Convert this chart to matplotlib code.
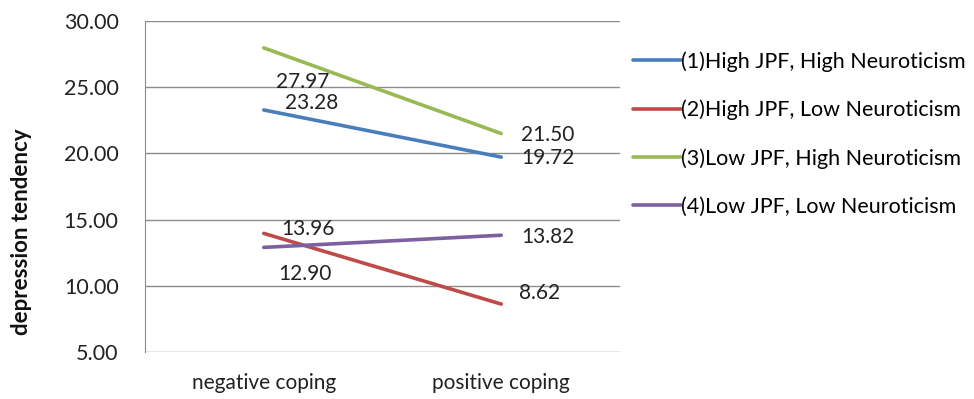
import matplotlib
matplotlib.use("Agg")
import matplotlib.pyplot as plt

categories = ["negative coping", "positive coping"]
series_names = [
    "(1)High JPF, High Neuroticism",
    "(2)High JPF, Low Neuroticism",
    "(3)Low JPF, High Neuroticism",
    "(4)Low JPF, Low Neuroticism",
]
s1 = [23.28, 19.72]
s2 = [13.96, 8.62]
s3 = [27.97, 21.50]
s4 = [12.90, 13.82]
yticks = [5, 10, 15, 20, 25, 30]

colors = ["#4A7EBB", "#BE4B48", "#98B954", "#7D60A0"]
# label pixel offsets (dx, dy) for each series at each category
offsets = [
    [(21, 7), (20, -1)],
    [(18, 4), (18, 11)],
    [(12, -34), (20, -1)],
    [(15, -27), (20, -2)],
]

plt.rcParams['font.family'] = ['Lato', 'DejaVu Sans']
fig = plt.figure(figsize=(9.74, 3.99), dpi=100)
ax = fig.add_axes([145/974, 1-352/399, 475/974, 331/399])

x = list(range(len(categories)))
for name, vals, c, offs in zip(series_names, [s1, s2, s3, s4], colors, offsets):
    ax.plot(x, vals, color=c, lw=2.6, label=name, solid_capstyle='round')
    for xi, v, (dx, dy) in zip(x, vals, offs):
        ax.annotate(f"{v:.2f}", (xi, v), xytext=(dx*0.72, dy*0.72),
                    textcoords='offset points', ha='left', va='center',
                    fontsize=15, color='#222222')

ax.set_xlim(-0.5, 1.5)
ax.set_ylim(5, 30)
ax.set_yticks(yticks)
ax.set_yticklabels([f"{t:.2f}" for t in yticks], fontsize=15.5, color='#222222')
ax.set_xticks(x)
ax.set_xticklabels(categories, fontsize=15, color='#222222')
ax.tick_params(axis='y', length=0, pad=19)
ax.tick_params(axis='x', length=0, pad=15)
ax.yaxis.grid(True, color='#8c8c8c', lw=1)
ax.set_axisbelow(True)
for sp in ['top', 'right', 'bottom']:
    ax.spines[sp].set_visible(False)
ax.spines['left'].set_color('#8c8c8c')
fig.text(22/974, 1-232/399, "depression tendency", rotation=90, ha='center',
         va='center', fontsize=16, fontweight='bold', color='#111111')

fig.legend(loc='upper left', bbox_to_anchor=(633/974, 1-51/399),
           frameon=False, fontsize=15.5, handlelength=2.25, handletextpad=0.0,
           labelspacing=1.3, borderaxespad=0, borderpad=0)

fig.savefig("out.png", dpi=100)
